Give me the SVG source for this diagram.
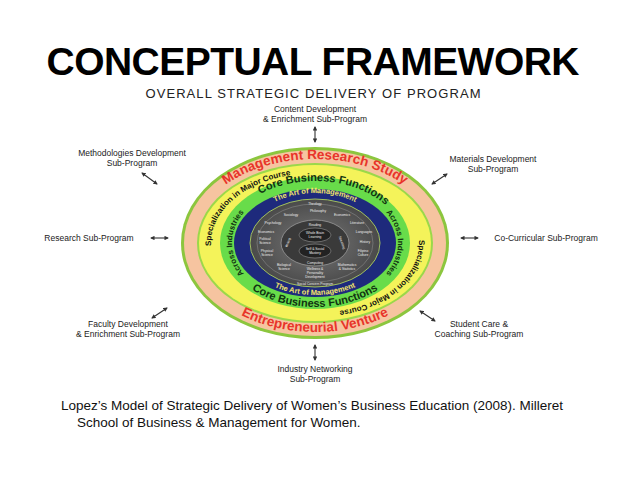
<svg xmlns="http://www.w3.org/2000/svg" width="638" height="479" viewBox="0 0 638 479">
<style>
.lbl{font-family:"Liberation Sans",Arial,sans-serif;font-size:8.5px;fill:#222;text-anchor:middle}
.arr{stroke:#333;stroke-width:1.1;fill:none;marker-start:url(#ah);marker-end:url(#ah)}
.sm{font-family:"Liberation Sans",Arial,sans-serif;font-size:3.3px;fill:#eee;text-anchor:middle}
.ring{font-family:"Liberation Sans",Arial,sans-serif;font-weight:bold}
</style>
<defs>
<marker id="ah" viewBox="0 0 10 10" refX="8" refY="5" markerWidth="4" markerHeight="4" orient="auto-start-reverse"><path d="M0,0 L10,5 L0,10 z" fill="#333"/></marker>
<radialGradient id="gg" cx="50%" cy="50%" r="50%"><stop offset="0" stop-color="#777"/><stop offset="1" stop-color="#4a4a4a"/></radialGradient>
<path id="pMR" d="M315,327 A124 84 0 1 1 315,159 A124 84 0 1 1 315,327"/>
<path id="pEV" d="M189,243 A126 89 0 0 0 441,243"/>
<path id="pSP" d="M315,313 A104 70 0 1 1 315,173 A104 70 0 1 1 315,313"/>
<path id="pCB" d="M315,305 A89 62 0 1 1 315,181 A89 62 0 1 1 315,305"/>
<path id="pCBb" d="M223,243 A92 64 0 0 0 407,243"/>
<path id="pAI" d="M315,302 A83 59 0 1 1 315,184 A83 59 0 1 1 315,302"/>
<path id="pAM" d="M315,293 A70 50 0 1 1 315,193 A70 50 0 1 1 315,293"/>
<path id="pAMb" d="M239,243 A76 52 0 0 0 391,243"/>
</defs>
<rect width="638" height="479" fill="#fff"/>
<text x="313" y="75" font-family="Liberation Sans,Arial,sans-serif" font-weight="bold" font-size="39" text-anchor="middle" textLength="533" fill="#000">CONCEPTUAL FRAMEWORK</text>
<text x="313" y="98" font-family="Liberation Sans,Arial,sans-serif" font-size="13" text-anchor="middle" textLength="335" fill="#222">OVERALL STRATEGIC DELIVERY OF PROGRAM</text>

<g id="nodes">
<g id="n-content"><text class="lbl" x="315" y="112">Content Development</text><text class="lbl" x="315" y="122">&amp; Enrichment Sub-Program</text></g>
<g id="n-method"><text class="lbl" x="132" y="156">Methodologies Development</text><text class="lbl" x="132" y="166">Sub-Program</text></g>
<g id="n-materials"><text class="lbl" x="493" y="162">Materials Development</text><text class="lbl" x="493" y="172">Sub-Program</text></g>
<g id="n-research"><text class="lbl" x="89" y="241">Research Sub-Program</text></g>
<g id="n-cocurr"><text class="lbl" x="546" y="241">Co-Curricular Sub-Program</text></g>
<g id="n-faculty"><text class="lbl" x="128" y="327">Faculty Development</text><text class="lbl" x="128" y="337">&amp; Enrichment Sub-Program</text></g>
<g id="n-student"><text class="lbl" x="479" y="327">Student Care &amp;</text><text class="lbl" x="479" y="337">Coaching Sub-Program</text></g>
<g id="n-industry"><text class="lbl" x="315" y="372">Industry Networking</text><text class="lbl" x="315" y="382">Sub-Program</text></g>

<g id="n-core">
<ellipse cx="315" cy="243" rx="134" ry="96" fill="#8cc63e"/>
<ellipse cx="315" cy="243" rx="131" ry="93" fill="#f6c4a0"/>
<ellipse cx="315" cy="243" rx="118" ry="80" fill="#9bd84a"/>
<ellipse cx="315" cy="243" rx="116" ry="78" fill="#f4f35a"/>
<ellipse cx="315" cy="243" rx="95" ry="66" fill="#68dc4a"/>
<ellipse cx="315" cy="243" rx="81" ry="54" fill="#1e2a7c"/>
<ellipse cx="315" cy="243" rx="65" ry="44" fill="url(#gg)" stroke="#9fbf60" stroke-width="1"/>
<ellipse cx="315" cy="243" rx="58" ry="39" fill="none" stroke="#888" stroke-width="0.6"/>
<ellipse cx="315" cy="243" rx="34" ry="23" fill="#3a3a3a" stroke="#999" stroke-width="0.8"/>
<ellipse cx="315" cy="235" rx="16" ry="7" fill="#222" stroke="#aaa" stroke-width="0.5"/>
<ellipse cx="315" cy="251" rx="16" ry="7" fill="#222" stroke="#aaa" stroke-width="0.5"/>
<text class="sm" x="315" y="234">Whole Brain</text><text class="sm" x="315" y="238">Learning</text>
<text class="sm" x="315" y="250">Self &amp; Social</text><text class="sm" x="315" y="254">Mastery</text>
<text class="sm" x="315" y="226">Reading</text><text class="sm" x="315" y="264">Computing</text>
<text class="sm" transform="translate(289,243) rotate(-70)">Writing</text>
<text class="sm" transform="translate(341,243) rotate(70)">Speaking</text>
<text class="sm" x="315" y="205">Theology</text>
<text class="sm" x="318" y="212">Philosophy</text>
<text class="sm" x="291" y="216">Sociology</text><text class="sm" x="342" y="216">Economics</text>
<text class="sm" x="273" y="224">Psychology</text><text class="sm" x="357" y="224">Literature</text>
<text class="sm" x="266" y="233">Economics</text><text class="sm" x="364" y="233">Languages</text>
<text class="sm" x="265" y="240">Political</text><text class="sm" x="265" y="244">Science</text><text class="sm" x="365" y="243">History</text>
<text class="sm" x="267" y="252">Physical</text><text class="sm" x="267" y="256">Science</text>
<text class="sm" x="363" y="252">Filipino</text><text class="sm" x="363" y="256">Culture</text>
<text class="sm" x="284" y="266">Biological</text><text class="sm" x="284" y="270">Science</text>
<text class="sm" x="347" y="266">Mathematics</text><text class="sm" x="347" y="270">&amp; Statistics</text>
<text class="sm" x="315" y="270">Wellness &amp;</text><text class="sm" x="315" y="274">Personality</text><text class="sm" x="315" y="278">Development</text>
<text class="sm" x="315" y="285">Social Concern Program</text>
<text class="ring" font-size="13.5" fill="#e8342a"><textPath href="#pMR" startOffset="50%" text-anchor="middle">Management Research Study</textPath></text>
<text class="ring" font-size="13.5" fill="#e8342a"><textPath href="#pEV" startOffset="50%" text-anchor="middle">Entrepreneurial Venture</textPath></text>
<text class="ring" font-size="8" fill="#111"><textPath href="#pSP" startOffset="35%" text-anchor="middle">Specialization in Major Course</textPath></text>
<text class="ring" font-size="8" fill="#111"><textPath href="#pSP" startOffset="85%" text-anchor="middle">Specialization in Major Course</textPath></text>
<text class="ring" font-size="11" fill="#113311"><textPath href="#pCB" startOffset="52%" text-anchor="middle">Core Business Functions</textPath></text>
<text class="ring" font-size="11" fill="#113311"><textPath href="#pCBb" startOffset="50%" text-anchor="middle">Core Business Functions</textPath></text>
<text class="ring" font-size="8" fill="#113311"><textPath href="#pAI" startOffset="25%" text-anchor="middle">Across Industries</textPath></text>
<text class="ring" font-size="8" fill="#113311"><textPath href="#pAI" startOffset="75%" text-anchor="middle">Across Industries</textPath></text>
<text class="ring" font-size="7.5" fill="#f2e46a"><textPath href="#pAM" startOffset="50%" text-anchor="middle">The Art of Management</textPath></text>
<text class="ring" font-size="7.5" fill="#f2e46a"><textPath href="#pAMb" startOffset="50%" text-anchor="middle">The Art of Management</textPath></text>
</g>
</g>

<g id="connectors">
<line class="arr" x1="315" y1="127" x2="315" y2="142"/>
<line class="arr" x1="142" y1="173" x2="157" y2="184"/>
<line class="arr" x1="432" y1="184" x2="447" y2="174"/>
<line class="arr" x1="151" y1="238" x2="168" y2="238"/>
<line class="arr" x1="461" y1="238" x2="478" y2="238"/>
<line class="arr" x1="152" y1="318" x2="167" y2="308"/>
<line class="arr" x1="420" y1="311" x2="435" y2="321"/>
<line class="arr" x1="315" y1="345" x2="315" y2="360"/>
</g>

<text x="61" y="410" font-family="Liberation Sans,Arial,sans-serif" font-size="13.5" fill="#111">Lopez’s Model of Strategic Delivery of Women’s Business Education (2008). Milleret</text>
<text x="77" y="427" font-family="Liberation Sans,Arial,sans-serif" font-size="13.5" fill="#111">School of Business &amp; Management for Women.</text>
</svg>
